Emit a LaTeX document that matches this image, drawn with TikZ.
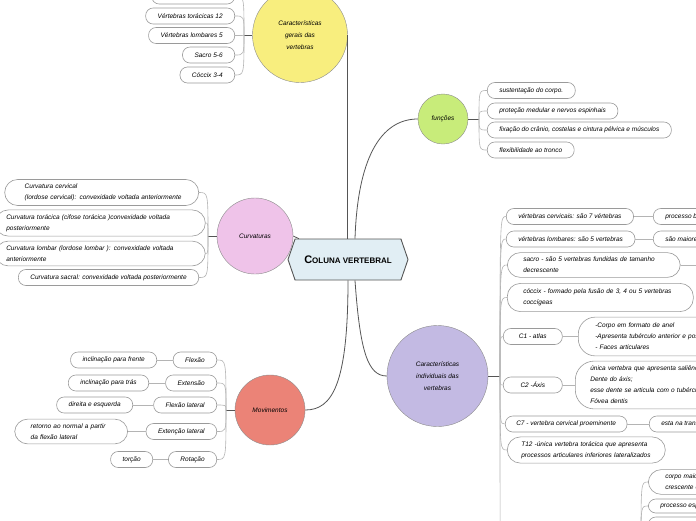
\documentclass[tikz,border=0pt]{standalone}
\usepackage{fontspec}
\setmainfont{Liberation Sans}
\usetikzlibrary{shapes.symbols}
\definecolor{linegray}{HTML}{555555}
\definecolor{branchgray}{HTML}{B4B4B4}
\definecolor{pillgray}{HTML}{9A9A9A}
\definecolor{circlegray}{HTML}{8C8C8C}
\definecolor{hexblue}{HTML}{E1EEF4}
\definecolor{topicyellow}{HTML}{F8EE7E}
\definecolor{topicgreen}{HTML}{C8EC7A}
\definecolor{topicpink}{HTML}{EFC3E9}
\definecolor{topicred}{HTML}{EB8377}
\definecolor{topicpurple}{HTML}{C3BAE3}

\begin{document}
\begin{tikzpicture}[
  x=1pt, y=-1pt, font=\fontsize{6.5}{11}\selectfont\itshape,
  hexa/.style={signal, signal to=east and west, signal pointer angle=142,
               draw=linegray, fill=hexblue, line width=0.9pt,
               minimum width=120pt, minimum height=41pt, inner sep=0pt},
  topic/.style={circle, draw=circlegray, inner sep=0pt, align=center,
                font=\fontsize{6.5}{11.8}\selectfont\itshape},
  pill/.style={draw=pillgray, fill=white, rounded corners=7.5pt, line width=0.6pt,
               minimum height=16pt, inner xsep=12pt, inner ysep=1pt},
  bigpill/.style={pill, rounded corners=13pt, align=left, inner xsep=16pt, inner ysep=4.5pt},
  main/.style={draw=linegray, line width=0.8pt},
  branch/.style={draw=branchgray, line width=0.6pt}
]
\useasboundingbox (0,0) rectangle (696,520);
\fill[white] (0,0) rectangle (696,520);
\clip (0,0) rectangle (696,520);

% centre
\node[hexa] (coluna) at (348,259.5)
  {\upshape\bfseries\fontsize{11}{11}\selectfont C\fontsize{8}{11}\selectfont OLUNA VERTEBRAL};

% main topics
\node[topic, fill=topicyellow, minimum size=95pt] (gerais) at (300,35) {Características\\gerais das\\vertebras};
\node[topic, fill=topicgreen, minimum size=50pt] (funcoes) at (443,119) {funções};
\node[topic, fill=topicpink, minimum size=76pt] (curvaturas) at (255,236) {Curvaturas};
\node[topic, fill=topicred, minimum size=70pt] (movimentos) at (270,410) {Movimentos};
\node[topic, fill=topicpurple, minimum size=101pt] (caract) at (437.5,376) {Características\\individuais das\\vertebras};

% junctions
\coordinate (jGerais) at (244,35);
\coordinate (jFuncoes) at (479,119);
\coordinate (jCurv) at (208,236);
\coordinate (jMov) at (226,410);
\coordinate (jInd) at (500,376);
\coordinate (jTor) at (641,545);
\coordinate (pBelow) at (506,600);
\coordinate (sacroOut) at (700,265);

% caracteristicas gerais
\node[pill, anchor=east, minimum width=83pt] (gCerv) at (235,-4) {};
\node[pill, anchor=east] (gTor) at (235,16) {Vértebras torácicas 12};
\node[pill, anchor=east] (gLomb) at (235,35.5) {Vértebras lombares 5};
\node[pill, anchor=east] (gSacro) at (235,55) {Sacro 5-6};
\node[pill, anchor=east] (gCoccix) at (235,75) {Cóccix 3-4};

% funcoes
\node[pill, anchor=west] (fSust) at (487,90.5) {sustentação do corpo.};
\node[pill, anchor=west] (fProt) at (487,111) {proteção medular e nervos espinhais};
\node[pill, anchor=west] (fFix) at (487,130) {fixação do crânio, costelas e cintura pélvica e músculos};
\node[pill, anchor=west] (fFlex) at (487,150) {flexibilidade ao tronco};

% curvaturas
\node[bigpill, anchor=east, inner xsep=14pt, text width=166pt] (cCerv) at (199,192.5)
  {\hspace*{6pt}Curvatura cervical\\\hspace*{6pt}(lordose cervical): convexidade voltada anteriormente};
\node[bigpill, anchor=west, inner xsep=11pt, text width=188pt] (cTor) at (-5,223)
  {Curvatura torácica (cifose torácica )convexidade voltada\\posteriormente};
\node[bigpill, anchor=west, inner xsep=11pt, text width=188pt] (cLomb) at (-5,253.5)
  {Curvatura lombar (lordose lombar ): convexidade voltada\\anteriormente};
\node[pill, anchor=east] (cSacral) at (199,277.5) {Curvatura sacral: convexidade voltada posteriormente};

% movimentos
\node[pill, anchor=east] (mFlex) at (217,360) {Flexão};
\node[pill, anchor=east] (mExt) at (217,383) {Extensão};
\node[pill, anchor=east] (mFlexLat) at (217,405) {Flexão lateral};
\node[pill, anchor=east] (mExtLat) at (217,431.5) {Extenção lateral};
\node[pill, anchor=east] (mRot) at (217,459.5) {Rotação};
\node[pill, anchor=east] (dFlex) at (157,360) {inclinação para frente};
\node[pill, anchor=east] (dExt) at (149,383) {inclinação para trás};
\node[pill, anchor=east] (dFlexLat) at (133,405) {direita e esquerda};
\node[bigpill, anchor=east, inner xsep=16pt, text width=81pt] (dExtLat) at (128,431.5)
  {retorno ao normal a partir\\da flexão lateral};
\node[pill, anchor=east] (dRot) at (153,459.5) {torção};

% caracteristicas individuais
\node[pill, anchor=west] (pCerv) at (506,216.5) {vértebras cervicais: são 7 vértebras};
\node[pill, anchor=west] (pLomb) at (506,239) {vértebras lombares: são 5 vertebras};
\node[bigpill, anchor=west, text width=141pt] (pSacro) at (507,265)
  {sacro - são 5 vertebras fundidas de tamanho\\decrescente};
\node[bigpill, anchor=west, text width=154pt, inner ysep=5.5pt] (pCoccix) at (507,297.5)
  {cóccix - formado pela fusão de 3, 4 ou 5 vertebras\\coccígeas};
\node[pill, anchor=west, minimum width=59pt] (pC1) at (503,336.5) {C1 - atlas};
\node[pill, anchor=west, minimum width=59pt] (pC2) at (503,385) {C2 -Áxis};
\node[pill, anchor=west, inner xsep=11pt] (pC7) at (505,424) {C7 - vertebra cervical proeminente};
\node[bigpill, anchor=west, inner xsep=14pt, text width=130pt] (pT12) at (507,450)
  {T12 -única vertebra torácica que apresenta\\processos articulares inferiores lateralizados};

\node[pill, anchor=west] (sBifido) at (653,216.5) {processo bífido};
\node[pill, anchor=west] (sMaiores) at (653,239) {são maiores};
\node[bigpill, anchor=west, inner xsep=17pt, inner ysep=6pt, text width=170pt, rounded corners=17pt] (sC1) at (578,336.5)
  {-Corpo em formato de anel\\-Apresenta tubérculo anterior e posterior\\- Faces articulares};
\node[bigpill, anchor=west, inner xsep=15pt, inner ysep=5pt, text width=170pt, rounded corners=19pt] (sC2) at (575,385)
  {única vertebra que apresenta saliência\\Dente do áxis;\\esse dente se articula com o tubérculo\\Fóvea dentis};
\node[pill, anchor=west] (sC7) at (649,424) {esta na transição};
\node[bigpill, anchor=west, inner xsep=17pt, text width=60pt] (tCorpo) at (648,482)
  {corpo maior e\\crescente em};
\node[pill, anchor=west, minimum height=14pt] (tEsp) at (648,506) {processo espinhoso};
\node[pill, anchor=west, minimum width=60pt] (tNext) at (648,525) {};

% main connectors
\draw[main] (gerais.east) -- (gerais.east |- coluna.north);
\draw[main] ([xshift=7pt]coluna.north) .. controls (358,150) and (385,119) .. (funcoes.west);
\draw[main] (curvaturas.east) -- (coluna.157);
\draw[main] (coluna.south) .. controls (348,385) and (332,410) .. (movimentos.east);
\draw[main] ([xshift=7pt]coluna.south) .. controls (360,352) and (368,376) .. (caract.west);
\draw[main] (gerais.west) -- (jGerais);
\draw[main] (funcoes.east) -- (jFuncoes);
\draw[main] (curvaturas.west) -- (jCurv);
\draw[main] (movimentos.west) -- (jMov);
\draw[main] (caract.east) -- (jInd);

% branches
\draw[branch] (jGerais) .. controls (jGerais |- gCerv) .. (gCerv.east);
\draw[branch] (jGerais) .. controls (jGerais |- gTor) .. (gTor.east);
\draw[branch] (jGerais) .. controls (jGerais |- gLomb) .. (gLomb.east);
\draw[branch] (jGerais) .. controls (jGerais |- gSacro) .. (gSacro.east);
\draw[branch] (jGerais) .. controls (jGerais |- gCoccix) .. (gCoccix.east);

\draw[branch] (jFuncoes) .. controls (jFuncoes |- fSust) .. (fSust.west);
\draw[branch] (jFuncoes) .. controls (jFuncoes |- fProt) .. (fProt.west);
\draw[branch] (jFuncoes) .. controls (jFuncoes |- fFix) .. (fFix.west);
\draw[branch] (jFuncoes) .. controls (jFuncoes |- fFlex) .. (fFlex.west);

\draw[branch] (jCurv) .. controls (jCurv |- cCerv) .. (cCerv.east);
\draw[branch] (jCurv) .. controls (jCurv |- cTor) .. (cTor.east);
\draw[branch] (jCurv) .. controls (jCurv |- cLomb) .. (cLomb.east);
\draw[branch] (jCurv) .. controls (jCurv |- cSacral) .. (cSacral.east);

\draw[branch] (jMov) .. controls (jMov |- mFlex) .. (mFlex.east);
\draw[branch] (jMov) .. controls (jMov |- mExt) .. (mExt.east);
\draw[branch] (jMov) .. controls (jMov |- mFlexLat) .. (mFlexLat.east);
\draw[branch] (jMov) .. controls (jMov |- mExtLat) .. (mExtLat.east);
\draw[branch] (jMov) .. controls (jMov |- mRot) .. (mRot.east);
\draw[branch] (dFlex) -- (mFlex);
\draw[branch] (dExt) -- (mExt);
\draw[branch] (dFlexLat) -- (mFlexLat);
\draw[branch] (dExtLat) -- (mExtLat);
\draw[branch] (dRot) -- (mRot);

\draw[branch] (jInd) .. controls (jInd |- pCerv) .. (pCerv.west);
\draw[branch] (jInd) .. controls (jInd |- pLomb) .. (pLomb.west);
\draw[branch] (jInd) .. controls (jInd |- pSacro) .. (pSacro.west);
\draw[branch] (jInd) .. controls (jInd |- pCoccix) .. (pCoccix.west);
\draw[branch] (jInd) .. controls (jInd |- pC1) .. (pC1.west);
\draw[branch] (jInd) .. controls (jInd |- pC2) .. (pC2.west);
\draw[branch] (jInd) .. controls (jInd |- pC7) .. (pC7.west);
\draw[branch] (jInd) .. controls (jInd |- pT12) .. (pT12.west);
\draw[branch] (jInd) .. controls (jInd |- pBelow) .. (pBelow);
\draw[branch] (pCerv) -- (sBifido);
\draw[branch] (pLomb) -- (sMaiores);
\draw[branch] (pSacro.east) -- (sacroOut);
\draw[branch] (pC1) -- (sC1);
\draw[branch] (pC2) -- (sC2);
\draw[branch] (pC7) -- (sC7);
\draw[branch] (jTor) .. controls (jTor |- tCorpo) .. (tCorpo.west);
\draw[branch] (jTor) .. controls (jTor |- tEsp) .. (tEsp.west);
\draw[branch] (jTor) .. controls (jTor |- tNext) .. (tNext.west);
\end{tikzpicture}
\end{document}
